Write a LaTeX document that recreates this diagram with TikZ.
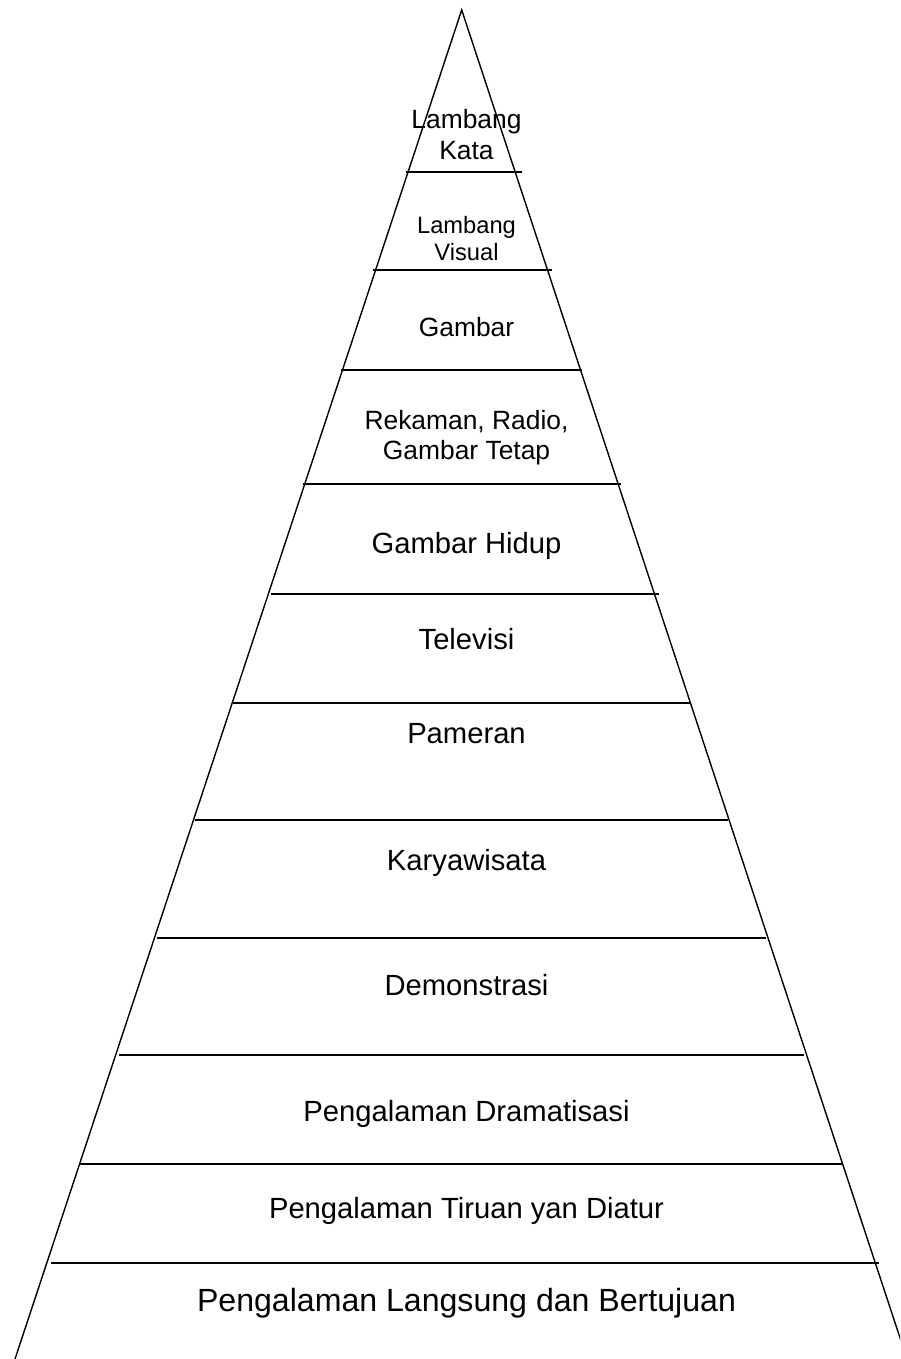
\documentclass[tikz,border=0pt]{standalone}
\usepackage{fontspec}
\setmainfont{Liberation Sans}
\begin{document}
\begin{tikzpicture}[x=0.5pt,y=-0.5pt,
  side/.style={line width=0.7pt},
  tier/.style={line width=1.05pt},
  lbl/.style={anchor=base,inner sep=0pt},
  txtxs/.style={lbl,font=\fontsize{11.85}{14}\selectfont},
  txts/.style={lbl,font=\fontsize{13.2}{15}\selectfont},
  txtm/.style={lbl,font=\fontsize{14.6}{17}\selectfont},
  txtl/.style={lbl,font=\fontsize{16.05}{19}\selectfont}]
\useasboundingbox (0,0) rectangle (900,1359);
\clip (0,0) rectangle (900,1359);

% outline of the cone
\coordinate (apex) at (461.7,10);
\coordinate (baseL) at (15,1359);
\coordinate (baseR) at (907,1359);
\draw[side, line join=miter] (baseL) -- (apex) -- (baseR);

% dividing lines between the levels
\foreach \n/\y/\xl/\xr in {
  1/172/406/522,
  2/270/373/552,
  3/370/341/582,
  4/484/303/621,
  5/594/271/659,
  6/703/233/690,
  7/820/195/728,
  8/938/157/766,
  9/1055/119/804,
  10/1164/80/843,
  11/1263/51/879}{
  \coordinate (l\n) at (\xl,\y);
  \coordinate (r\n) at (\xr,\y);
  \draw[tier] (l\n) -- (r\n);
}

% level labels
\node[txts]  (kataA)   at (466.5,128.3) {Lambang};
\node[txts]  (kataB)   at (466.5,159.3) {Kata};
\node[txtxs] (visA)    at (466.5,233.3) {Lambang};
\node[txtxs] (visB)    at (466.5,260.7) {Visual};
\node[txts]  (gambar)  at (466.5,336)   {Gambar};
\node[txts]  (rekA)    at (466.5,429)   {Rekaman, Radio,};
\node[txts]  (rekB)    at (466.5,459)   {Gambar Tetap};
\node[txtm]  (hidup)   at (466.5,553.3) {Gambar Hidup};
\node[txtm]  (tv)      at (466.5,649.3) {Televisi};
\node[txtm]  (pameran) at (466.5,743.3) {Pameran};
\node[txtm]  (karya)   at (466.5,870.7) {Karyawisata};
\node[txtm]  (demo)    at (466.5,995.7) {Demonstrasi};
\node[txtm]  (drama)   at (466.5,1121.7) {Pengalaman Dramatisasi};
\node[txtm]  (tiruan)  at (466.5,1218.3) {Pengalaman Tiruan yan Diatur};
\node[txtl]  (langsung) at (466.5,1311) {Pengalaman Langsung dan Bertujuan};
\end{tikzpicture}
\end{document}
